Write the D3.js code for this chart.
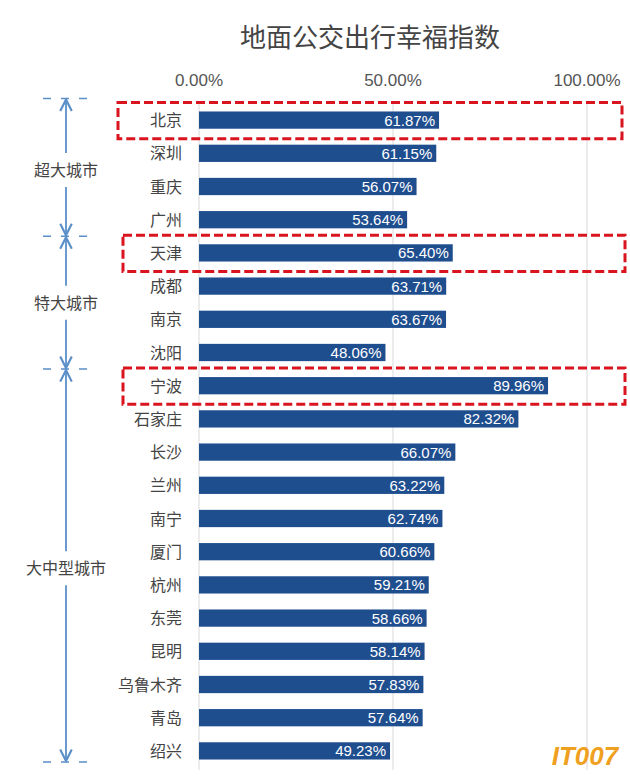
<!DOCTYPE html><html><head><meta charset="utf-8">
<script src="https://cdn.jsdelivr.net/npm/d3@7"></script>
<style>body{margin:0;background:#fff}text{font-family:"Liberation Sans","Noto Sans CJK SC",sans-serif}</style></head><body>
<svg id="c" width="630" height="783"></svg>
<script>
const cities=["北京","深圳","重庆","广州","天津","成都","南京","沈阳","宁波","石家庄","长沙","兰州","南宁","厦门","杭州","东莞","昆明","乌鲁木齐","青岛","绍兴"];
const values=[61.87,61.15,56.07,53.64,65.40,63.71,63.67,48.06,89.96,82.32,66.07,63.22,62.74,60.66,59.21,58.66,58.14,57.83,57.64,49.23];
const ticks=[0,50,100];
const groups=[{name:"超大城市",from:0,to:3},{name:"特大城市",from:4,to:7},{name:"大中型城市",from:8,to:19}];
const highlight=["北京","天津","宁波"];
const svg=d3.select("#c");
const x=d3.scaleLinear().domain([0,100]).range([199,587]);
const y=d3.scaleBand().domain(cities).range([103.5,767.5]).paddingInner(0.48).paddingOuter(0.24);
svg.append("text").attr("x",370).attr("y",47).attr("text-anchor","middle").attr("font-size",26).attr("fill","#444").text("地面公交出行幸福指数");
svg.selectAll(".g").data(ticks).join("line").attr("x1",d=>x(d)).attr("x2",d=>x(d)).attr("y1",103).attr("y2",770).attr("stroke","#d9d9d9");
svg.selectAll(".t").data(ticks).join("text").attr("x",d=>x(d)).attr("y",86).attr("text-anchor","middle").attr("font-size",17).attr("fill","#555").text(d=>d.toFixed(2)+"%");
svg.selectAll(".b").data(cities).join("rect").attr("x",x(0)).attr("y",d=>y(d)).attr("height",y.bandwidth()).attr("width",(d,i)=>x(values[i])-x(0)).attr("fill","#1f4e8f");
svg.selectAll(".v").data(cities).join("text").attr("x",(d,i)=>x(values[i])-4).attr("y",d=>y(d)+y.bandwidth()/2+5.5).attr("text-anchor","end").attr("font-size",15).attr("fill","#fff").text((d,i)=>values[i].toFixed(2)+"%");
svg.selectAll(".c").data(cities).join("text").attr("x",182).attr("y",d=>y(d)+y.bandwidth()/2+6).attr("text-anchor","end").attr("font-size",16).attr("fill","#444").text(d=>d);
const step=y.step();
const bx=66, col="#5b8fc9";
const bounds=[y(cities[0])-step*0.48/2-5, ...groups.map(g=>y(cities[g.to])+y.bandwidth()+step*0.48/2)];
bounds[3]=762;
bounds.forEach(b=>{svg.append("line").attr("x1",43).attr("x2",90).attr("y1",b).attr("y2",b).attr("stroke",col).attr("stroke-width",1.5).attr("stroke-dasharray","8,10");});
const defs=svg.append("defs");
defs.append("marker").attr("id","ar").attr("viewBox","0 0 10 10").attr("refX",9).attr("refY",5).attr("markerWidth",8).attr("markerHeight",8).attr("orient","auto-start-reverse").append("path").attr("d","M1,1L9,5L1,9").attr("fill","none").attr("stroke",col).attr("stroke-width",1.5);
groups.forEach((g,i)=>{
 const t=bounds[i]+1,b=bounds[i+1]-1,m=(y(cities[g.from])+y(cities[g.to])+y.bandwidth())/2;
 svg.append("line").attr("x1",bx).attr("x2",bx).attr("y1",m-17).attr("y2",t).attr("stroke",col).attr("stroke-width",1.8).attr("marker-end","url(#ar)");
 svg.append("line").attr("x1",bx).attr("x2",bx).attr("y1",m+17).attr("y2",b).attr("stroke",col).attr("stroke-width",1.8).attr("marker-end","url(#ar)");
 svg.append("text").attr("x",bx).attr("y",m+6).attr("text-anchor","middle").attr("font-size",16).attr("fill","#444").text(g.name);
});
highlight.forEach((h,i)=>{
 const yy=y(h);
 svg.append("rect").attr("x",i==0?118:123).attr("y",yy-9).attr("width",i==0?504:502).attr("height",y.bandwidth()+19).attr("fill","none").attr("stroke","#d9141e").attr("stroke-width",3).attr("stroke-dasharray","9,4");
});
svg.append("text").attr("x",585).attr("y",765).attr("text-anchor","middle").attr("font-size",26).attr("font-weight","bold").attr("font-style","italic").attr("fill","#f0a020").text("IT007");
</script></body></html>
